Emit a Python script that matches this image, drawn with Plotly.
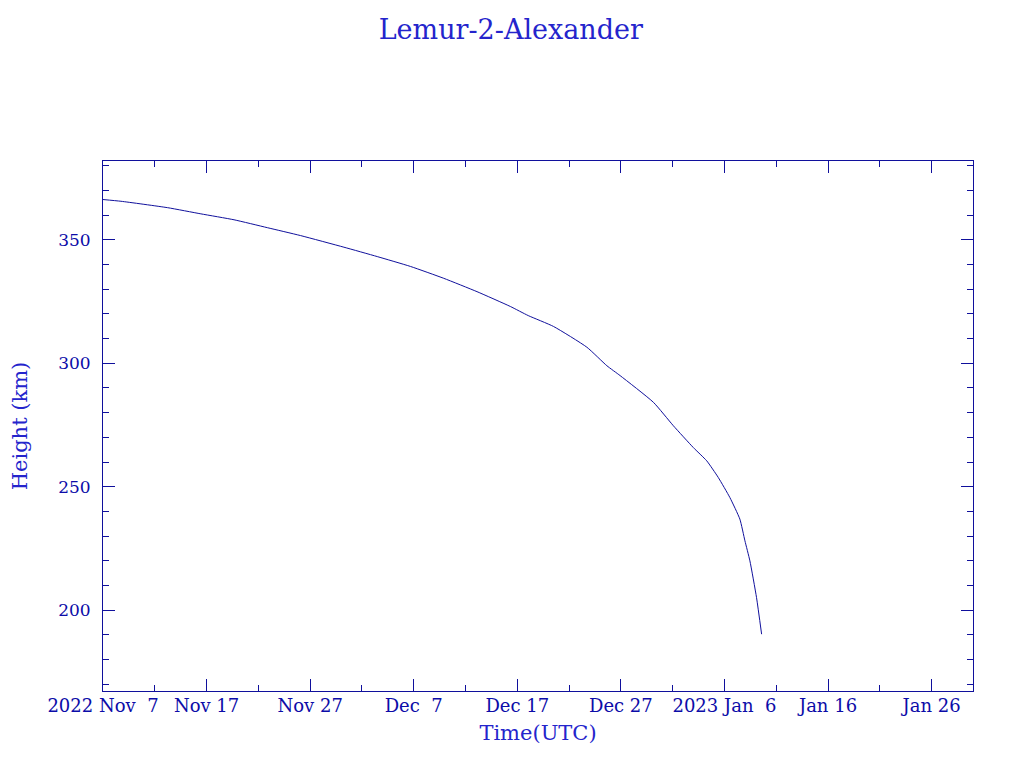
import plotly.graph_objects as go

# Data
times = [
    "2022-11-07 00:00", "2022-11-08 17:31", "2022-11-13 05:45", "2022-11-16 10:48",
    "2022-11-19 15:36", "2022-11-22 20:53", "2022-11-26 01:55", "2022-11-30 06:14",
    "2022-12-03 11:31", "2022-12-06 16:34", "2022-12-09 21:36", "2022-12-13 02:38",
    "2022-12-16 07:55", "2022-12-18 01:26", "2022-12-20 12:00", "2022-12-23 17:17",
    "2022-12-25 15:36", "2022-12-26 22:19", "2022-12-30 03:22", "2023-01-01 01:41",
    "2023-01-02 23:46", "2023-01-04 06:58", "2023-01-05 09:36", "2023-01-06 12:43",
    "2023-01-07 11:46", "2023-01-07 23:31", "2023-01-08 11:02", "2023-01-09 02:24",
    "2023-01-09 14:10",
]
heights = [
    366.3, 365.6, 363.0, 360.5, 358.1, 354.9, 351.7, 347.0,
    343.2, 339.2, 334.4, 329.0, 323.0, 319.3, 314.9, 306.5,
    299.0, 295.0, 284.2, 274.7, 265.9, 260.5, 253.8, 245.6,
    236.9, 228.1, 220.0, 205.1, 190.3,
]

x_tick_dates = ["2022-11-07", "2022-11-17", "2022-11-27", "2022-12-07", "2022-12-17",
                "2022-12-27", "2023-01-06", "2023-01-16", "2023-01-26"]
x_tick_text = ["2022 Nov\u00a0\u00a07", "Nov 17", "Nov 27", "Dec\u00a0\u00a07", "Dec 17",
               "Dec 27", "2023 Jan\u00a0\u00a06", "Jan 16", "Jan 26"]
x_minor_dates = ["2022-11-12", "2022-11-22", "2022-12-02", "2022-12-12", "2022-12-22",
                 "2023-01-01", "2023-01-11", "2023-01-21"]
y_tick_vals = [200, 250, 300, 350]
y_minor_vals = [170, 180, 190, 210, 220, 230, 240, 260, 270, 280, 290,
                310, 320, 330, 340, 360, 370, 380]

x_range = ["2022-11-07 00:00", "2023-01-30 00:00"]
y_range = [167.3, 381.9]

LINE = "#10109c"
TICK_TXT = "#0c0ca8"
TITLE_TXT = "#2424cc"
FONT = "DejaVu Serif"

fig = go.Figure()
fig.add_trace(go.Scatter(x=times, y=heights, mode="lines",
                         line=dict(color=LINE, width=1, shape="spline", smoothing=0.5),
                         showlegend=False, hoverinfo="skip"))

axis_common = dict(
    showline=True, linecolor=LINE, linewidth=1, mirror="ticks",
    ticks="inside", ticklen=12, tickwidth=1, tickcolor=LINE,
    showgrid=False, zeroline=False,
)

fig.update_layout(
    width=1024, height=768,
    paper_bgcolor="white", plot_bgcolor="white",
    margin=dict(l=95, r=59, t=153, b=85, autoexpand=False),
    title=dict(text="Lemur-2-Alexander", x=0.491, xanchor="center", y=0.972, yanchor="middle",
               font=dict(family=FONT, size=27, color=TITLE_TXT)),
    xaxis=dict(
        type="date", range=x_range,
        tickmode="array", tickvals=x_tick_dates, ticktext=x_tick_text,
        tickfont=dict(family=FONT, size=18, color=TICK_TXT),
        minor=dict(tickmode="array", tickvals=x_minor_dates, ticks="inside",
                   ticklen=6, tickcolor=LINE, showgrid=False),
        title=dict(text="Time(UTC)", font=dict(family=FONT, size=21, color=TITLE_TXT),
                   standoff=10),
        ticklabelstandoff=-2,
        **axis_common,
    ),
    yaxis=dict(
        range=y_range,
        tickmode="array", tickvals=y_tick_vals,
        tickfont=dict(family=FONT, size=17, color=TICK_TXT),
        minor=dict(tickmode="array", tickvals=y_minor_vals, ticks="inside",
                   ticklen=6, tickcolor=LINE, showgrid=False),
        title=dict(text="Height (km)", font=dict(family=FONT, size=21, color=TITLE_TXT),
                   standoff=42),
        ticklabelstandoff=8,
        **axis_common,
    ),
)

fig.write_html("out.html")
